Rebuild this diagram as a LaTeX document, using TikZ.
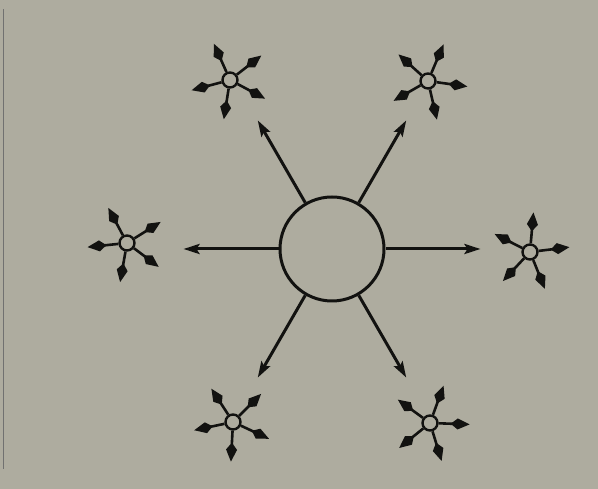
\documentclass[tikz,border=0pt]{standalone}
\usetikzlibrary{arrows.meta}
\definecolor{paper}{RGB}{174,172,159}
\definecolor{ink}{RGB}{18,18,16}
\begin{document}
\begin{tikzpicture}[x=1pt,y=1pt,
  bigcirc/.style={circle,draw=ink,line width=3pt,minimum size=104pt,inner sep=0pt},
  smallcirc/.style={circle,draw=ink,line width=2.4pt,minimum size=15pt,inner sep=0pt},
  mainarrow/.style={draw=ink,line width=3pt,-{Stealth[length=16pt,width=10pt,inset=3pt]}},
  stararrow/.style={draw=ink,line width=2.6pt,-{Kite[length=19pt,width=11pt,inset=7pt]}}]
\fill[paper] (0,0) rectangle (598,489);
\useasboundingbox (0,0) rectangle (598,489);
\draw[ink!60,line width=0.8pt] (3,20) -- (3,480);
% centre
\node[bigcirc] (c) at (332,240) {};
\foreach \a in {0,60,120,180,240,300}{
  \draw[mainarrow] (c.\a) -- ++(\a:95pt);
}
% stars
\node[smallcirc] (s1) at (230,409) {};
\node[smallcirc] (s2) at (428,408) {};
\node[smallcirc] (s3) at (127,246) {};
\node[smallcirc] (s4) at (530,237) {};
\node[smallcirc] (s5) at (233,67) {};
\node[smallcirc] (s6) at (430,66) {};
\foreach \a in {38,114,195,261,332}{\draw[stararrow] (s1.\a) -- ++(\a:31pt);}
\foreach \a in {67,138,210,283,352}{\draw[stararrow] (s2.\a) -- ++(\a:31pt);}
\foreach \a in {32,118,186,260,323}{\draw[stararrow] (s3.\a) -- ++(\a:31pt);}
\foreach \a in {7,85,153,227,292}{\draw[stararrow] (s4.\a) -- ++(\a:31pt);}
\foreach \a in {45,123,192,267,335}{\draw[stararrow] (s5.\a) -- ++(\a:31pt);}
\foreach \a in {70,144,219,287,358}{\draw[stararrow] (s6.\a) -- ++(\a:31pt);}
\end{tikzpicture}
\end{document}
